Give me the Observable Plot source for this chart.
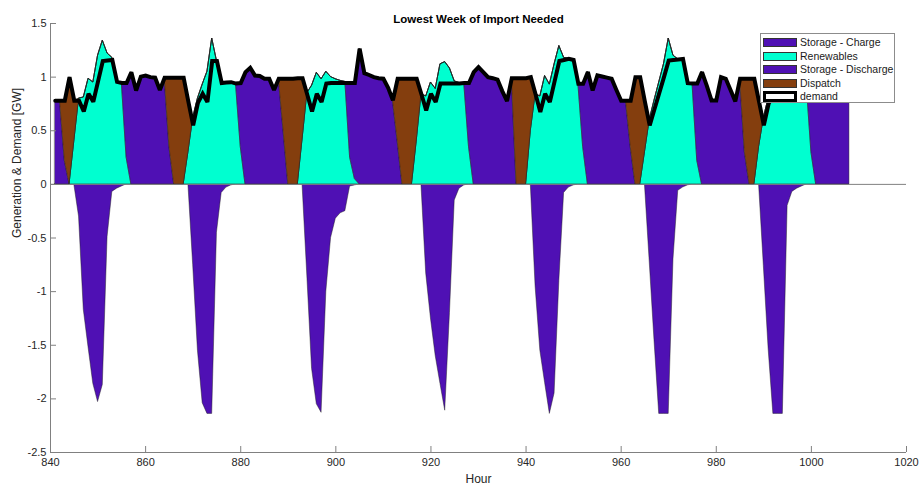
<!DOCTYPE html>
<html>
<head>
<meta charset="utf-8">
<script src="https://cdn.jsdelivr.net/npm/d3@7"></script>
<script src="https://cdn.jsdelivr.net/npm/@observablehq/plot@0.6"></script>
<style>
  body { margin: 0; background: #fff; }
  #wrap { position: relative; width: 920px; height: 490px; font-family: "Liberation Sans", Arial, sans-serif; }
  #legend { position: absolute; left: 760px; top: 33px; width: 135px; height: 70px; border: 1px solid #8c8c8c; background: #fff; box-sizing: border-box; }
  .lrow { position: absolute; left: 0; height: 12px; font-size: 10.5px; color: #1a1a1a; white-space: nowrap; }
  .lsw { position: absolute; left: 2px; top: 1px; width: 34px; height: 9px; box-sizing: border-box; border: 1px solid #333; }
  .ltx { position: absolute; left: 39px; top: -1px; line-height: 12px; }
</style>
</head>
<body>
<div id="wrap"><div id="chart"></div><div id="legend"></div></div>
<script>
// ---- data (hours 841 .. 1008, one value per hour) ----
const startHour = 841;

const demand = [
  0.78,0.78,0.78,1.00,0.78,0.78,0.68,0.845,0.77,0.96,1.15,1.155,1.16,0.955,0.945,0.945,1.045,0.875,1.005,1.015,1.00,0.995,0.88,0.995,
  0.995,0.995,0.995,0.995,0.77,0.55,0.76,0.845,0.767,1.15,1.15,0.945,0.95,0.953,0.94,0.945,1.047,1.087,1.015,1.01,0.985,0.985,0.88,0.985,
  0.985,0.985,0.985,0.99,0.99,0.835,0.68,0.845,0.767,0.94,0.945,0.945,0.945,0.945,0.945,0.945,1.265,1.037,1.02,1.0,0.99,0.985,0.9,0.783,
  0.985,0.985,0.985,0.985,0.985,0.84,0.69,0.845,0.767,0.94,0.94,0.94,0.94,0.94,0.945,0.945,1.047,1.093,1.047,1.0,0.99,0.976,0.87,0.777,
  0.99,0.99,0.99,0.99,1.0,0.84,0.674,0.845,0.767,0.96,1.15,1.16,1.17,1.16,0.938,0.938,1.047,0.876,1.016,1.006,0.995,0.985,0.88,0.78,
  0.78,0.78,1.0,1.0,0.77,0.55,0.70,0.85,1.0,1.155,1.16,1.165,1.17,0.944,0.94,0.94,1.047,0.92,0.783,0.783,1.0,0.985,0.88,0.774,
  0.985,0.985,0.985,0.985,0.77,0.55,0.75,0.845,0.767,1.15,1.15,0.945,0.95,0.953,0.94,0.945,1.047,1.087,1.015,1.01,0.985,0.985,0.88,0.985
];

const renewables = [
  0,0,0,0,0.40,0.80,0.81,0.985,0.95,1.2,1.34,1.22,1.18,0.955,0.945,0.25,0,0,0,0,0,0,0,0,
  0,0,0,0,0.3,0.62,0.8,0.93,1.05,1.36,1.15,0.945,0.95,0.953,0.94,0.35,0,0,0,0,0,0,0,0,
  0,0,0,0,0.42,0.85,0.92,1.04,0.98,1.05,1.0,0.98,0.965,0.955,0.25,0.05,0,0,0,0,0,0,0,0,
  0,0,0,0,0.4,0.84,0.82,0.95,0.89,1.12,1.14,1.08,0.96,0.945,0.945,0.35,0,0,0,0,0,0,0,0,
  0,0,0,0,0.5,0.84,0.82,1.01,0.93,1.12,1.29,1.18,1.17,1.16,0.938,0.35,0,0,0,0,0,0,0,0,
  0,0,0,0,0.3,0.6,0.78,0.95,1.12,1.36,1.2,1.165,1.17,0.944,0.94,0.22,0,0,0,0,0,0,0,0,
  0,0,0,0,0.35,0.62,0.8,0.93,1.05,1.36,1.15,0.945,0.95,0.953,0.94,0.3,0,0,0,0,0,0,0,0
];

const discharge = [
  0.78,0.78,0.22,0,0,0,0,0,0,0,0,0,0,0,0,0.695,1.045,0.875,1.005,1.015,1.0,0.995,0.88,0.995,
  0.35,0,0,0,0,0,0,0,0,0,0,0,0,0,0,0.595,1.047,1.087,1.015,1.01,0.985,0.985,0.88,0.985,
  0.5,0,0,0,0,0,0,0,0,0,0,0,0,0,0.695,0.895,1.265,1.037,1.02,1.0,0.99,0.985,0.9,0.783,
  0.4,0,0,0,0,0,0,0,0,0,0,0,0,0,0,0.595,1.047,1.093,1.047,1.0,0.99,0.976,0.87,0.777,
  0.99,0,0,0,0,0,0,0,0,0,0,0,0,0,0,0.588,1.047,0.876,1.016,1.006,0.995,0.985,0.88,0.78,
  0.78,0.35,0,0,0,0,0,0,0,0,0,0,0,0,0,0.72,1.047,0.92,0.783,0.783,1.0,0.985,0.88,0.774,
  0.985,0.3,0,0,0,0,0,0,0,0,0,0,0,0,0,0.645,1.047,1.087,1.015,1.01,0.985,0.985,0.88,0.985
];

const dispatch = [
  0,0,0.56,1.0,0.38,0,0,0,0,0,0,0,0,0,0,0,0,0,0,0,0,0,0,0,
  0.645,0.995,0.995,0.995,0.47,0,0,0,0,0,0,0,0,0,0,0,0,0,0,0,0,0,0,0,
  0.485,0.985,0.985,0.99,0.57,0,0,0,0,0,0,0,0,0,0,0,0,0,0,0,0,0,0,0,
  0.585,0.985,0.985,0.985,0.585,0,0,0,0,0,0,0,0,0,0,0,0,0,0,0,0,0,0,0,
  0,0.99,0.99,0.99,0.5,0,0,0,0,0,0,0,0,0,0,0,0,0,0,0,0,0,0,0,
  0,0.43,1.0,1.0,0.47,0,0,0,0,0,0,0,0,0,0,0,0,0,0,0,0,0,0,0,
  0,0.685,0.985,0.985,0.42,0,0,0,0,0,0,0,0,0,0,0,0,0,0,0,0,0,0,0
];

const charge = [
  0,0,0,0,0,-0.30,-1.17,-1.52,-1.86,-2.03,-1.87,-0.49,-0.07,-0.04,-0.02,0,0,0,0,0,0,0,0,0,
  0,0,0,0,0,-0.75,-1.55,-2.04,-2.14,-2.14,-0.45,-0.08,-0.03,-0.01,0,0,0,0,0,0,0,0,0,0,
  0,0,0,0,0,-0.85,-1.72,-2.05,-2.13,-1.0,-0.5,-0.32,-0.27,-0.25,-0.02,-0.01,0,0,0,0,0,0,0,0,
  0,0,0,0,0,0,-0.83,-1.25,-1.6,-1.86,-2.11,-1.2,-0.15,-0.04,-0.01,0,0,0,0,0,0,0,0,0,
  0,0,0,0,0,-0.95,-1.55,-1.85,-2.14,-1.95,-0.9,-0.08,-0.03,-0.01,0,0,0,0,0,0,0,0,0,0,
  0,0,0,0,0,-0.72,-1.45,-2.14,-2.14,-2.14,-0.7,-0.06,-0.03,-0.01,0,0,0,0,0,0,0,0,0,0,
  0,0,0,0,0,-0.76,-1.53,-2.14,-2.14,-2.14,-0.2,-0.07,-0.04,-0.02,0,0,0,0,0,0,0,0,0,0
];

const seriesNames = ["Storage - Charge", "Renewables", "Storage - Discharge", "Dispatch"];
const seriesColors = ["#4F10B4", "#00FFD0", "#4F10B4", "#843E0E"];
const demandName = "demand";
const xTicks = [840, 860, 880, 900, 920, 940, 960, 980, 1000, 1020];
const yTicks = [-2.5, -2, -1.5, -1, -0.5, 0, 0.5, 1, 1.5];
const titleText = "Lowest Week of Import Needed";
const xLabel = "Hour";
const yLabel = "Generation & Demand [GW]";

// ---- build tables ----
const seriesValues = [charge, renewables, discharge, dispatch];
const rows = [];
seriesNames.forEach((name, s) => {
  seriesValues[s].forEach((v, i) => rows.push({hour: startHour + i, value: v, series: name}));
});
const demandRows = demand.map((v, i) => ({hour: startHour + i, value: v}));

const chart = Plot.plot({
  width: 920,
  height: 490,
  marginLeft: 50,
  marginRight: 14,
  marginTop: 23,
  marginBottom: 38,
  style: {fontFamily: "'Liberation Sans', Arial, sans-serif", fontSize: "11px", color: "#262626", background: "white", overflow: "visible"},
  x: {domain: [840, 1020], label: null},
  y: {domain: [-2.5, 1.5], label: null},
  color: {domain: seriesNames, range: seriesColors},
  marks: [
    Plot.areaY(rows, {x: "hour", y: "value", z: "series", fill: "series", order: seriesNames,
      stroke: "#1c1c1c", strokeWidth: 0.5, strokeOpacity: 0.9}),
    Plot.ruleY([0], {stroke: "#808080", strokeWidth: 1}),
    Plot.lineY(demandRows, {x: "hour", y: "value", stroke: "black", strokeWidth: 4,
      strokeLinejoin: "miter", strokeMiterlimit: 2.2}),
    Plot.ruleX([xTicks[0]], {stroke: "#808080"}),
    Plot.ruleY([yTicks[0]], {stroke: "#808080"}),
    Plot.axisX({ticks: xTicks, tickSize: -6, tickPadding: 12, tickFormat: d3.format("d"), stroke: "#808080", fill: "#262626", fontSize: 11}),
    Plot.axisY({ticks: yTicks, tickSize: -6, tickPadding: 10, tickFormat: d => String(d), stroke: "#808080", fill: "#262626", fontSize: 11}),
    Plot.text([titleText], {text: d => d, frameAnchor: "top", dy: -9, fontWeight: "bold", fontSize: 11.5, fill: "#000"}),
    Plot.text([xLabel], {text: d => d, frameAnchor: "bottom", dy: 30, fontSize: 12, fill: "#262626"}),
    Plot.text([yLabel], {text: d => d, frameAnchor: "left", rotate: -90, dx: -33, fontSize: 12, fill: "#262626"})
  ]
});
document.getElementById("chart").appendChild(chart);

// ---- legend ----
const legend = document.getElementById("legend");
const legendItems = seriesNames.map((n, i) => ({name: n, color: seriesColors[i], line: false}));
legendItems.push({name: demandName, color: "#fff", line: true});
legendItems.forEach((it, i) => {
  const row = document.createElement("div");
  row.className = "lrow";
  row.style.top = (3 + i * 13.6) + "px";
  const sw = document.createElement("div");
  sw.className = "lsw";
  sw.style.background = it.color;
  if (it.line) { sw.style.border = "3px solid #000"; sw.style.top = "0px"; sw.style.height = "11px"; }
  const tx = document.createElement("div");
  tx.className = "ltx";
  tx.textContent = it.name;
  row.appendChild(sw);
  row.appendChild(tx);
  legend.appendChild(row);
});
</script>
</body>
</html>
